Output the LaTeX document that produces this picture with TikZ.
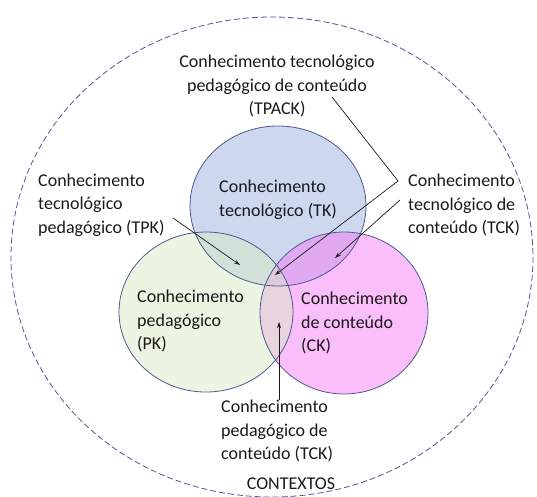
\documentclass[tikz,border=0pt]{standalone}
\usepackage{fontspec}
\setmainfont{Carlito}
\usepackage{xcolor}
\usepackage{tikz}
\usetikzlibrary{positioning,arrows.meta}

\definecolor{rim}{RGB}{78,88,148}
\definecolor{tkfill}{RGB}{155,175,221}
\definecolor{pkfill}{RGB}{215,235,195}
\definecolor{ckfill}{RGB}{245,125,245}
\definecolor{ink}{RGB}{25,25,25}

\begin{document}
\begin{tikzpicture}[
    x=1pt, y=-1pt,
    lbl/.style={
        inner sep=0pt,
        align=left,
        anchor=west,
        text=ink,
        font=\fontsize{18}{23.5}\selectfont
    },
    disc/.style={fill opacity=0.5},
    rimline/.style={draw=rim, line width=0.8pt}
]
\useasboundingbox (0,0) rectangle (537,496);

% contextos
\draw[rimline, dash pattern=on 6pt off 3pt] (272,257) ellipse [x radius=261, y radius=240];

% the three knowledge areas
\fill[tkfill, disc] (278,206) ellipse [x radius=88, y radius=80];
\fill[ckfill, disc] (344,313) ellipse [x radius=84, y radius=81];
\fill[pkfill, disc] (206,312) ellipse [x radius=87, y radius=80];
\draw[rimline] (278,206) ellipse [x radius=88, y radius=80];
\draw[rimline] (344,313) ellipse [x radius=84, y radius=81];
\draw[rimline] (206,312) ellipse [x radius=87, y radius=80];

% labels
\node[lbl, anchor=center, align=center] (tpack) at (277,86) {Conhecimento tecnológico\\pedagógico de conteúdo\\(TPACK)};
\node[lbl] (tk) at (219,200) {Conhecimento\\tecnológico (TK)};
\node[lbl] (tpk) at (38,205) {Conhecimento\\tecnológico\\pedagógico (TPK)};
\node[lbl] (tck) at (408,205) {Conhecimento\\tecnológico de\\conteúdo (TCK)};
\node[lbl] (pk) at (137,321) {Conhecimento\\pedagógico\\(PK)};
\node[lbl] (ck) at (301,323) {Conhecimento\\de conteúdo\\(CK)};
\node[lbl] (pck) at (221,431) {Conhecimento\\pedagógico de\\conteúdo (TCK)};
\node[lbl, anchor=center] (ctx) at (291,484) {CONTEXTOS};

% pointers
\coordinate (tpack-from) at (332,97);
\coordinate (tpack-knee) at (398,181);
\coordinate (tpack-to) at (275,275);
\coordinate (tck-from) at (400,200);
\coordinate (tck-to) at (335,258);
\coordinate (tpk-from) at (173,218);
\coordinate (tpk-to) at (240,265);
\coordinate (pck-from) at (279,400);
\coordinate (pck-to) at (279,322);

\draw[->, ink, line width=0.7pt, >={Stealth[length=6pt,width=4pt]}] (tpack-from) -- (tpack-knee) -- (tpack-to);
\draw[->, ink, line width=0.7pt, >={Stealth[length=6pt,width=4pt]}] (tck-from) -- (tck-to);
\draw[->, ink, line width=0.7pt, >={Stealth[length=6pt,width=4pt]}] (tpk-from) -- (tpk-to);
\draw[->, ink, line width=0.7pt, >={Stealth[length=6pt,width=4pt]}] (pck-from) -- (pck-to);

\end{tikzpicture}
\end{document}
